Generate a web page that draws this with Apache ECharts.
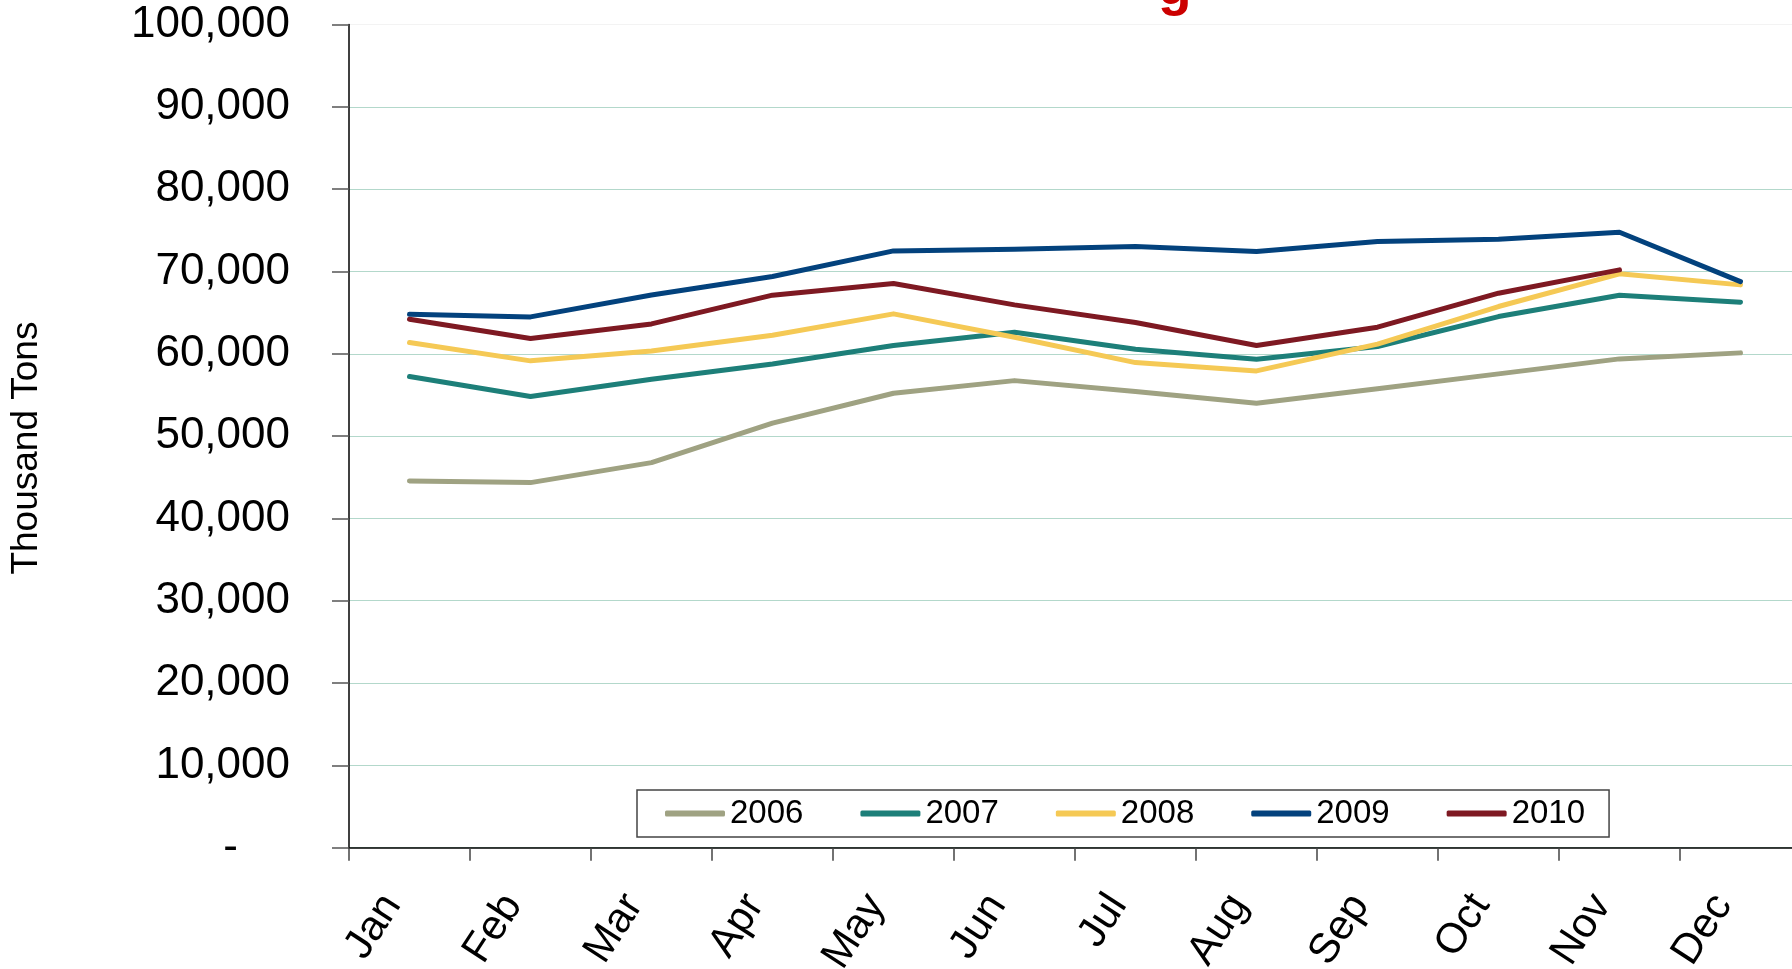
<!DOCTYPE html>
<html>
<head>
<meta charset="utf-8">
<title>Monthly tonnage 2006-2010</title>
<script src="https://cdn.jsdelivr.net/npm/echarts@6/dist/echarts.min.js"></script>
<style>
    html, body { margin: 0; padding: 0; background: #fff; }
    #chart { width: 1792px; height: 969px; }
</style>
</head>
<body>
<div id="chart"></div>
<script>
// 数据
const months = ['Jan', 'Feb', 'Mar', 'Apr', 'May', 'Jun', 'Jul', 'Aug', 'Sep', 'Oct', 'Nov', 'Dec'];
const years = ['2006', '2007', '2008', '2009', '2010'];
const s2006 = [44560, 44350, 46780, 51570, 55210, 56740, 55410, 54000, 55740, 57560, 59380, 60110];
const s2007 = [57230, 54800, 56910, 58770, 61000, 62620, 60560, 59340, 60880, 64520, 67120, 66270];
const s2008 = [61360, 59140, 60350, 62260, 64850, 62010, 58930, 57920, 61170, 65740, 69710, 68370];
const s2009 = [64810, 64480, 67150, 69380, 72500, 72700, 73030, 72420, 73630, 73920, 74770, 68770];
const s2010 = [64200, 61850, 63630, 67120, 68530, 65940, 63790, 61000, 63230, 67360, 70190, null];
const yTicks = [0, 10000, 20000, 30000, 40000, 50000, 60000, 70000, 80000, 90000, 100000];

const dom = document.getElementById('chart');
const myChart = echarts.init(dom);

const font = 'Liberation Sans';
const colorArr = ['#9fa282', '#1d7f79', '#f5c955', '#03427d', '#7e1922'];
const seriesData = [s2006, s2007, s2008, s2009, s2010];

let seriesArr = [];
years.forEach((name, index) => {
    seriesArr.push({
        name: name,
        type: 'line',
        symbol: 'none',
        data: seriesData[index],
        itemStyle: { color: colorArr[index] },
        lineStyle: { width: 5, color: colorArr[index], cap: 'round', join: 'round' }
    });
});

// 网格线颜色，最上面一条很淡
let gridColors = yTicks.map((v, i) => i === yTicks.length - 1 ? '#f3f3f3' : '#b3d8cb');

const option = {
    backgroundColor: '#fff',
    animation: false,
    graphic: [{
        type: 'text',
        left: 1158,
        top: -39,
        style: {
            text: 'g',
            font: 'bold 55px "Liberation Sans"',
            fill: '#cc0000'
        }
    }],
    legend: {
        left: 637,
        top: 790,
        padding: [7, 24, 7, 28],
        borderColor: '#444',
        borderWidth: 1.5,
        backgroundColor: '#fff',
        icon: 'roundRect',
        itemWidth: 60,
        itemHeight: 6,
        itemGap: 57,
        textStyle: { fontFamily: font, fontSize: 33, color: '#000' },
        data: years
    },
    grid: {
        left: 349,
        top: 24.5,
        width: 1452,
        height: 823.2,
        containLabel: false,
        outerBoundsMode: 'none'
    },
    xAxis: {
        type: 'category',
        data: months,
        boundaryGap: true,
        axisLine: { lineStyle: { color: '#000', width: 1.5 } },
        axisTick: { show: true, interval: 0, length: 13, lineStyle: { color: '#444', width: 1.5 } },
        axisLabel: {
            interval: 0,
            rotate: 57,
            margin: 62,
            verticalAlign: 'bottom',
            fontFamily: font,
            fontSize: 42,
            color: '#000'
        },
        splitLine: { show: false }
    },
    yAxis: {
        type: 'value',
        min: 0,
        max: 100000,
        interval: 10000,
        name: 'Thousand Tons',
        nameLocation: 'middle',
        nameRotate: 90,
        nameGap: 304,
        nameTextStyle: { fontFamily: font, fontSize: 37, color: '#000', padding: [0, 24, 0, 0] },
        axisLine: { show: true, lineStyle: { color: '#000', width: 1.5 } },
        axisTick: { show: true, length: 17, lineStyle: { color: '#555', width: 1.5 } },
        axisLabel: {
            margin: 59,
            fontFamily: font,
            fontSize: 44,
            color: '#000',
            formatter: function (v) {
                return v === 0 ? '{d|-}' : v.toLocaleString('en-US');
            },
            rich: {
                d: { fontFamily: font, fontSize: 44, color: '#000', padding: [0, 52, 0, 0] }
            }
        },
        splitLine: { show: true, lineStyle: { color: gridColors, width: 1.2 } }
    },
    series: seriesArr
};

myChart.setOption(option);

window.addEventListener('resize', function () {
    myChart.resize();
});
</script>
</body>
</html>
